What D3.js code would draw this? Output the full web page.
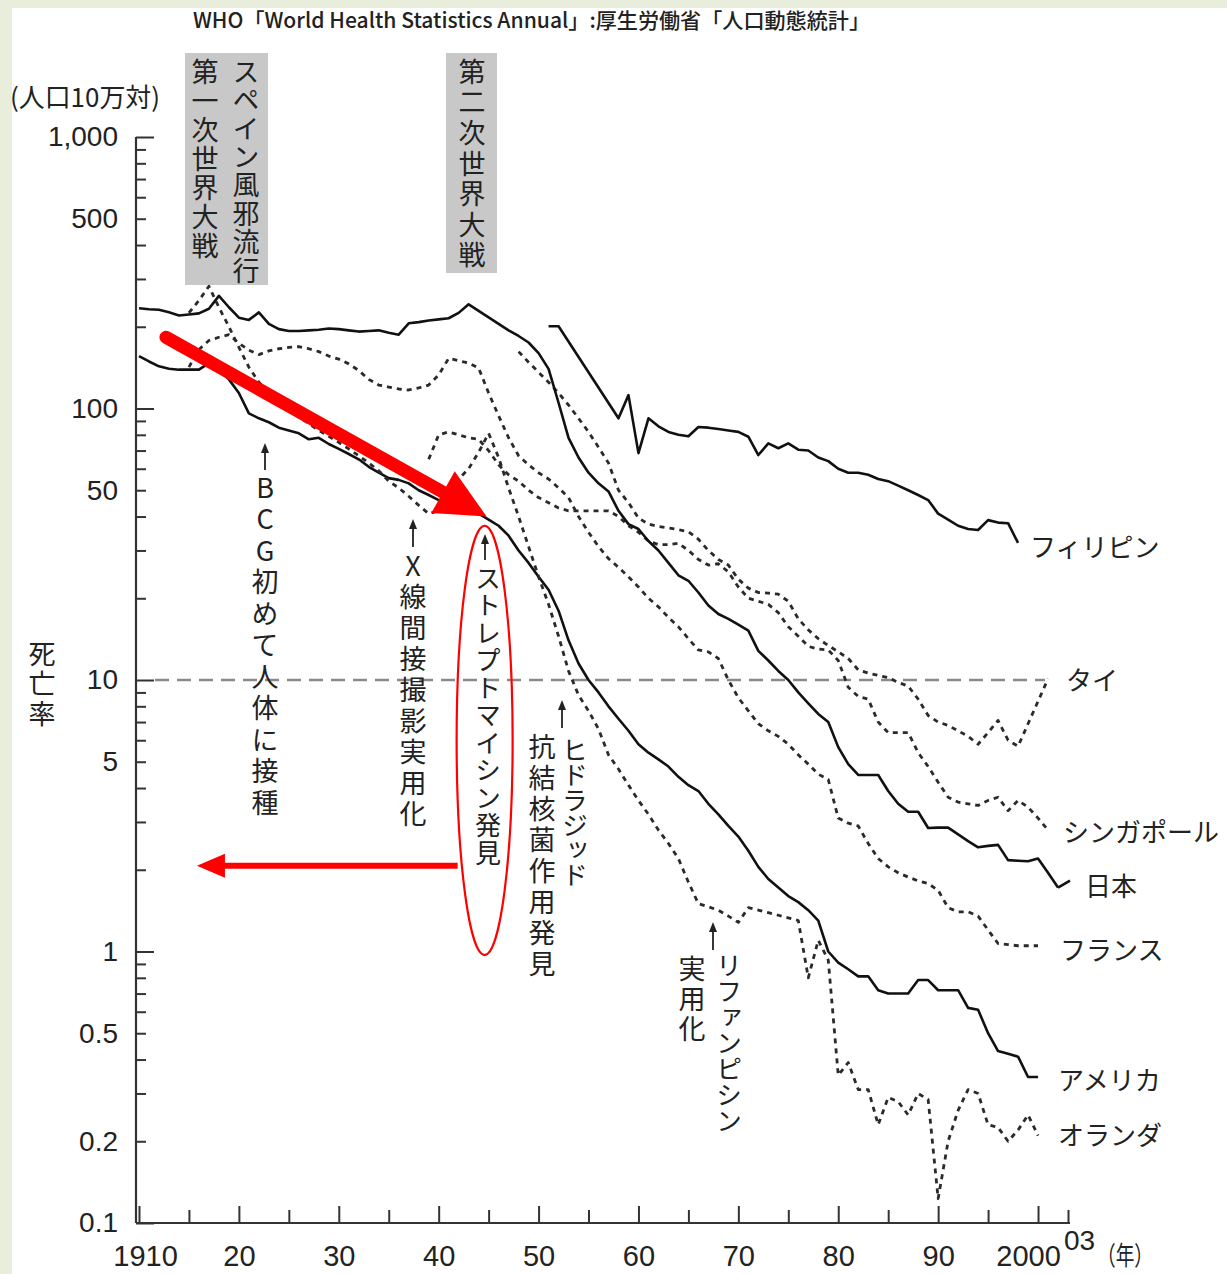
<!DOCTYPE html>
<html>
<head>
<meta charset="utf-8">
<script src="https://cdn.jsdelivr.net/npm/d3@7"></script>
<style>
  body { margin: 0; background: #e8eedb; }
  svg { display: block; }
  text { fill: #222; }
  .jp { font-family: "Noto Sans CJK JP", sans-serif; }
  .num { font-family: "Liberation Sans", Arial, sans-serif; }
</style>
</head>
<body>
<script>
// 結核死亡率（人口10万対） [年, 値]
const japan = [[1910,234],[1911,232],[1912,231],[1913,226],[1914,220],[1915,222],[1916,224],[1917,233],[1918,260],[1919,236],[1920,216],[1921,212],[1922,226],[1923,205],[1924,196],[1925,193],[1926,193],[1927,194],[1928,195],[1929,197],[1930,196],[1931,194],[1932,192],[1933,193],[1934,194],[1935,190],[1936,187],[1937,206],[1938,208],[1939,211],[1940,213],[1941,215],[1942,225],[1943,242],[1947,194],[1948,185],[1949,175],[1950,160],[1951,140],[1952,105],[1953,78],[1954,66],[1955,58],[1956,53],[1957,49.5],[1958,42],[1959,37.5],[1960,36],[1961,32.5],[1962,30],[1963,27],[1964,24.3],[1965,23.2],[1966,21],[1967,18.8],[1968,17.5],[1969,16.8],[1970,16],[1971,15.2],[1972,12.8],[1973,11.8],[1974,10.8],[1975,10],[1976,9],[1977,8.2],[1978,7.5],[1979,7],[1980,5.66],[1981,4.9],[1982,4.47],[1983,4.47],[1984,4.47],[1985,3.9],[1986,3.5],[1987,3.27],[1988,3.27],[1989,2.85],[1990,2.86],[1991,2.86],[1992,2.7],[1993,2.55],[1994,2.42],[1995,2.45],[1996,2.47],[1997,2.17],[1998,2.16],[1999,2.15],[2000,2.2],[2001,1.95],[2002,1.72]];

const usa = [[1910,156],[1911,149],[1912,143],[1913,140],[1914,139],[1915,139],[1916,139],[1917,147],[1918,138],[1919,128],[1920,114],[1921,96],[1922,92],[1923,89],[1924,85],[1925,83],[1926,81],[1927,77],[1928,78],[1929,74],[1930,71],[1931,68],[1932,65],[1933,61],[1934,58],[1935,55.4],[1936,54.6],[1937,53],[1938,50],[1939,48],[1940,46],[1941,45],[1942,44],[1943,42],[1944,41],[1945,39],[1946,37],[1947,34],[1948,30],[1949,27],[1950,24],[1951,21.5],[1952,18],[1953,14],[1954,11.5],[1955,10],[1956,9],[1957,8],[1958,7.2],[1959,6.5],[1960,5.8],[1961,5.4],[1962,5.1],[1963,4.8],[1964,4.4],[1965,4.1],[1966,3.9],[1967,3.5],[1968,3.2],[1969,2.9],[1970,2.65],[1971,2.35],[1972,2.05],[1973,1.85],[1974,1.72],[1975,1.6],[1976,1.52],[1977,1.42],[1978,1.3],[1979,1.0],[1980,0.91],[1981,0.86],[1982,0.81],[1983,0.81],[1984,0.72],[1985,0.7],[1986,0.7],[1987,0.7],[1988,0.785],[1989,0.785],[1990,0.72],[1991,0.72],[1992,0.72],[1993,0.62],[1994,0.61],[1995,0.5],[1996,0.43],[1997,0.42],[1998,0.41],[1999,0.345],[2000,0.345]];

const philippines = [[1951,201],[1952,201],[1958,92],[1959,112],[1960,68.5],[1961,92],[1962,86],[1963,82],[1964,80],[1965,79],[1966,85.5],[1967,85],[1968,84],[1969,83],[1970,82],[1971,78.7],[1972,67.4],[1973,74.4],[1974,71.4],[1975,74.4],[1976,70.5],[1977,70],[1978,66],[1979,64],[1980,60],[1981,58],[1982,58],[1983,57],[1984,55],[1985,54],[1986,52],[1987,50],[1988,48],[1989,46],[1990,41],[1991,39],[1992,37],[1993,36],[1994,35.7],[1995,38.8],[1996,38],[1997,37.8],[1998,32]];

const france = [[1915,142],[1916,165],[1917,178],[1918,183],[1919,187],[1920,174],[1921,164],[1922,158],[1923,163],[1924,166],[1925,168],[1926,169],[1927,166],[1928,162],[1929,156],[1930,152],[1931,146],[1932,138],[1933,128],[1934,122],[1935,120],[1936,118],[1937,117],[1938,119],[1939,122],[1940,133],[1941,153],[1942,150],[1943,147],[1944,141],[1945,114],[1946,94],[1947,78],[1948,67],[1949,62],[1950,58],[1951,55],[1952,51],[1953,47],[1954,40],[1955,35],[1956,31],[1957,28],[1958,26],[1959,24],[1960,22],[1961,20],[1962,18.6],[1963,17],[1964,15.7],[1965,14.2],[1966,12.9],[1967,12.7],[1968,12],[1969,10],[1970,8.6],[1971,7.7],[1972,6.9],[1973,6.5],[1974,6.2],[1975,5.8],[1976,5.3],[1977,4.9],[1978,4.5],[1979,4.3],[1980,3.1],[1981,2.97],[1982,2.9],[1983,2.5],[1984,2.2],[1985,2.05],[1986,1.95],[1987,1.88],[1988,1.82],[1989,1.78],[1990,1.68],[1991,1.45],[1992,1.4],[1993,1.4],[1994,1.35],[1995,1.2],[1996,1.07],[1997,1.06],[1998,1.05],[1999,1.05],[2000,1.05]];

const netherlands = [[1915,225],[1916,250],[1917,282],[1918,236],[1919,200],[1920,168],[1921,142],[1922,125],[1923,115],[1924,106],[1925,99],[1926,93],[1927,88],[1928,83],[1929,79],[1930,75],[1931,71],[1932,67],[1933,63],[1934,59],[1935,54],[1936,51],[1937,47.5],[1938,44],[1939,41],[1940,42],[1941,48],[1942,55],[1943,60],[1944,69],[1945,81],[1946,66],[1947,51],[1948,40],[1949,31],[1950,24],[1951,19],[1952,14.5],[1953,10.8],[1954,8.8],[1955,7.7],[1956,6.6],[1957,5.3],[1958,4.7],[1959,4.1],[1960,3.6],[1961,3.2],[1962,2.8],[1963,2.5],[1964,2.2],[1965,1.8],[1966,1.5],[1967,1.46],[1968,1.42],[1969,1.35],[1970,1.28],[1971,1.45],[1972,1.42],[1973,1.39],[1974,1.36],[1975,1.33],[1976,1.3],[1977,0.8],[1978,1.1],[1979,0.93],[1980,0.35],[1981,0.39],[1982,0.31],[1983,0.31],[1984,0.23],[1985,0.29],[1986,0.28],[1987,0.25],[1988,0.3],[1989,0.285],[1990,0.123],[1991,0.2],[1992,0.26],[1993,0.31],[1994,0.3],[1995,0.23],[1996,0.225],[1997,0.2],[1998,0.22],[1999,0.25],[2000,0.21]];

const singapore = [[1939,65],[1940,80],[1941,82],[1942,80],[1943,78],[1944,77],[1945,70],[1946,62],[1947,57],[1948,54],[1949,50],[1950,47],[1951,45],[1952,43],[1953,42],[1954,42],[1955,42],[1956,42],[1957,42],[1958,40],[1959,37],[1960,35],[1961,32.5],[1962,31.5],[1963,31.5],[1964,31.9],[1965,30],[1966,27.8],[1967,26.5],[1968,26.8],[1969,25],[1970,22],[1971,20],[1972,19.5],[1973,19],[1974,17.7],[1975,15.7],[1976,14.5],[1977,13.3],[1978,13],[1979,12.9],[1980,11.8],[1981,9.4],[1982,8.7],[1983,8.5],[1984,7],[1985,6.4],[1986,6.4],[1987,6.4],[1988,5.4],[1989,4.8],[1990,4.2],[1991,3.7],[1992,3.55],[1993,3.5],[1994,3.45],[1995,3.6],[1996,3.7],[1997,3.3],[1998,3.6],[1999,3.4],[2000,3.1],[2001,2.8]];

const thailand = [[1948,162],[1949,148],[1950,136],[1951,125],[1952,114],[1953,103],[1954,92],[1955,82],[1956,72],[1957,63],[1958,50],[1959,45],[1960,39.5],[1961,37.5],[1962,36.8],[1963,36.3],[1964,35.8],[1965,35.2],[1966,33],[1967,30],[1968,27.8],[1969,26.5],[1970,23.5],[1971,21.8],[1972,21],[1973,20.9],[1974,20.7],[1975,19.5],[1976,16.8],[1977,15.3],[1978,14.2],[1979,13.4],[1980,12.7],[1981,12],[1982,10.9],[1983,10.6],[1984,10.4],[1985,10.2],[1986,9.8],[1987,9.5],[1988,8.5],[1989,7.4],[1990,7],[1991,6.8],[1992,6.5],[1993,6.2],[1994,5.8],[1995,6.4],[1996,7.1],[1997,6],[1998,5.7],[2001,10.1]];

const yTickLabels = [0.1, 0.2, 0.5, 1, 5, 10, 50, 100, 500, 1000];
const xTickLabels = [1910, 1920, 1930, 1940, 1950, 1960, 1970, 1980, 1990, 2000];

const series = [
  { name: "フィリピン",   data: philippines, dotted: false, lx: 1030, ly: 545 },
  { name: "タイ",         data: thailand,    dotted: true,  lx: 1066, ly: 678 },
  { name: "シンガポール", data: singapore,   dotted: true,  lx: 1063, ly: 830 },
  { name: "日本",         data: japan,       dotted: false, lx: 1085, ly: 884 },
  { name: "フランス",     data: france,      dotted: true,  lx: 1060, ly: 948 },
  { name: "アメリカ",     data: usa,         dotted: false, lx: 1058, ly: 1078 },
  { name: "オランダ",     data: netherlands, dotted: true,  lx: 1058, ly: 1133 }
];

const svg = d3.select('body').append('svg')
    .attr('width', 1227)
    .attr('height', 1274);

svg.append('rect')
    .attr('x', 12).attr('y', 8)
    .attr('width', 1215).attr('height', 1266)
    .attr('fill', '#fff');

const x = d3.scaleLinear().domain([1910, 2003]).range([139, 1068]);
const y = d3.scaleLog().domain([0.1, 1000]).range([1223, 137]);

// 出典
svg.append('text').attr('class', 'jp')
    .attr('x', 193).attr('y', 28)
    .attr('font-size', 21).attr('font-weight', 500)
    .attr('textLength', 677).attr('lengthAdjust', 'spacingAndGlyphs')
    .text('WHO「World Health Statistics Annual」:厚生労働省「人口動態統計」');

// 戦争などの灰色の帯
svg.append('rect').attr('x', 185).attr('y', 53).attr('width', 83).attr('height', 232).attr('fill', '#c8c8c8');
svg.append('rect').attr('x', 446).attr('y', 53).attr('width', 51).attr('height', 220).attr('fill', '#c8c8c8');

function vtext(str, cx, top, size, ls) {
  svg.append('text').attr('class', 'jp')
      .attr('x', cx).attr('y', top)
      .attr('font-size', size)
      .attr('letter-spacing', ls)
      .style('writing-mode', 'vertical-rl')
      .style('text-orientation', 'upright')
      .text(str);
}

vtext('スペイン風邪流行', 246, 58, 27, 1.4);
vtext('第一次世界大戦', 205, 58, 27, 2);
vtext('第二次世界大戦', 472, 58, 27, 3.6);

// y軸
const yTicks = [];
for (let e = -1; e < 3; e++) {
  for (let m = 1; m < 10; m++) yTicks.push(+(m * Math.pow(10, e)).toPrecision(3));
}
yTicks.push(1000);

const yAxis = svg.append('g')
    .attr('transform', 'translate(136,0)')
    .call(d3.axisLeft(y)
      .tickValues(yTicks)
      .tickSizeInner(-10)
      .tickSizeOuter(0)
      .tickPadding(18)
      .tickFormat(d => yTickLabels.includes(d) ? d3.format(',')(d) : ''));
yAxis.select('.domain').remove();
yAxis.selectAll('.tick line')
    .attr('stroke', '#333').attr('stroke-width', 2)
    .attr('x2', d => Number.isInteger(Math.log10(d)) ? 18 : 10);
yAxis.selectAll('.tick text')
    .attr('class', 'num').attr('font-size', 28).attr('fill', '#222');

// x軸
const xTicks = d3.range(1910, 2001, 5).concat([2003]);
const xAxis = svg.append('g')
    .attr('transform', 'translate(0,1223)')
    .call(d3.axisBottom(x)
      .tickValues(xTicks)
      .tickSizeInner(-13)
      .tickSizeOuter(0)
      .tickPadding(22)
      .tickFormat(d => xTickLabels.includes(d) ? (d === 1910 || d === 2000 ? String(d) : String(d % 100)) : ''));
xAxis.select('.domain').remove();
xAxis.selectAll('.tick line')
    .attr('stroke', '#333').attr('stroke-width', 2)
    .attr('y2', d => xTickLabels.includes(d) ? -17 : -13);
xAxis.selectAll('.tick text')
    .attr('class', 'num').attr('font-size', 29).attr('fill', '#222')
    .attr('dx', d => d === 1910 ? 6 : d === 2000 ? -10 : 0);

svg.append('line')
    .attr('x1', 136).attr('x2', x(2003) + 2)
    .attr('y1', y(0.1)).attr('y2', y(0.1))
    .attr('stroke', '#333').attr('stroke-width', 2.2);
svg.append('line')
    .attr('x1', 136).attr('x2', 136)
    .attr('y1', y(1000)).attr('y2', y(0.1))
    .attr('stroke', '#333').attr('stroke-width', 2.2);

svg.append('text').attr('class', 'num')
    .attr('x', 1064).attr('y', 1250).attr('font-size', 28).text('03');
svg.append('text').attr('class', 'jp')
    .attr('x', 1097).attr('y', 1265).attr('font-size', 26)
    .attr('textLength', 56).attr('lengthAdjust', 'spacingAndGlyphs')
    .text('（年）');

svg.append('text').attr('class', 'jp')
    .attr('x', 10).attr('y', 107).attr('font-size', 26)
    .attr('textLength', 150).attr('lengthAdjust', 'spacingAndGlyphs')
    .text('(人口10万対)');
vtext('死亡率', 42, 640, 27, 3);

// 10の破線
svg.append('line')
    .attr('x1', 155).attr('x2', 1045)
    .attr('y1', y(10)).attr('y2', y(10))
    .attr('stroke', '#8a8a8a').attr('stroke-width', 2.5)
    .attr('stroke-dasharray', '14,8');

// 系列
const line = d3.line()
    .x(d => x(d[0]))
    .y(d => y(d[1]));

svg.selectAll('path.series')
    .data(series)
    .enter()
  .append('path')
    .attr('class', 'series')
    .attr('d', d => line(d.data))
    .attr('fill', 'none')
    .attr('stroke', d => d.dotted ? '#2a2a2a' : '#111')
    .attr('stroke-width', d => d.dotted ? 2.8 : 2.6)
    .attr('stroke-dasharray', d => d.dotted ? '5,5' : null)
    .attr('stroke-linejoin', 'round');

// 日本の引き出し線
const jpLast = japan[japan.length - 1];
svg.append('path')
    .attr('d', `M${x(jpLast[0])},${y(jpLast[1])}L${x(jpLast[0]) + 12},${y(jpLast[1]) - 7}`)
    .attr('fill', 'none').attr('stroke', '#111').attr('stroke-width', 2.6);

svg.selectAll('text.label')
    .data(series)
    .enter()
  .append('text')
    .attr('class', 'label jp')
    .attr('x', d => d.lx)
    .attr('y', d => d.ly)
    .attr('dominant-baseline', 'central')
    .attr('font-size', 26)
    .text(d => d.name);

// 出来事の注記
function upArrow(cx, tip, tail) {
  svg.append('line')
      .attr('x1', cx).attr('x2', cx).attr('y1', tip + 6).attr('y2', tail)
      .attr('stroke', '#222').attr('stroke-width', 1.8);
  svg.append('path')
      .attr('d', `M${cx},${tip}L${cx - 4},${tip + 10}L${cx + 4},${tip + 10}Z`)
      .attr('fill', '#222');
}

upArrow(265, 443, 470);
vtext('BCG初めて人体に接種', 265, 474, 27, 4.5);

upArrow(413, 519, 547);
vtext('X線間接撮影実用化', 413, 552, 27, 4);

upArrow(485, 534, 560);
vtext('ストレプトマイシン発見', 488, 565, 26, 1.5);

upArrow(562, 700, 728);
vtext('ヒドラジッド', 575, 737, 26, -1);
vtext('抗結核菌作用発見', 542, 733, 27, 4);

upArrow(713, 922, 950);
vtext('リファンピシン', 729, 952, 26, 0);
vtext('実用化', 692, 955, 27, 3);

// 赤い強調
const red = '#ff0000';
const sx = x(1912.7), sy = y(183);
const tx = x(1944.8), ty = y(40);
const len = Math.hypot(tx - sx, ty - sy);
const ux = (tx - sx) / len, uy = (ty - sy) / len;
const bx = tx - 50 * ux, by = ty - 50 * uy;
svg.append('line')
    .attr('x1', sx).attr('y1', sy).attr('x2', bx + 4 * ux).attr('y2', by + 4 * uy)
    .attr('stroke', red).attr('stroke-width', 13).attr('stroke-linecap', 'round');
svg.append('path')
    .attr('d', `M${tx},${ty}L${bx - 24 * uy},${by + 24 * ux}L${bx + 24 * uy},${by - 24 * ux}Z`)
    .attr('fill', red);

const hy = y(2.07);
svg.append('line')
    .attr('x1', x(1941.9)).attr('x2', x(1918))
    .attr('y1', hy).attr('y2', hy)
    .attr('stroke', red).attr('stroke-width', 6);
svg.append('path')
    .attr('d', `M${x(1915.8)},${hy}L${x(1918.6)},${hy - 12}L${x(1918.6)},${hy + 12}Z`)
    .attr('fill', red);

const eTop = y(37), eBot = y(0.97);
svg.append('ellipse')
    .attr('cx', x(1944.6)).attr('cy', (eTop + eBot) / 2)
    .attr('rx', 28).attr('ry', (eBot - eTop) / 2)
    .attr('fill', 'none').attr('stroke', red).attr('stroke-width', 2.2);
</script>
</body>
</html>
